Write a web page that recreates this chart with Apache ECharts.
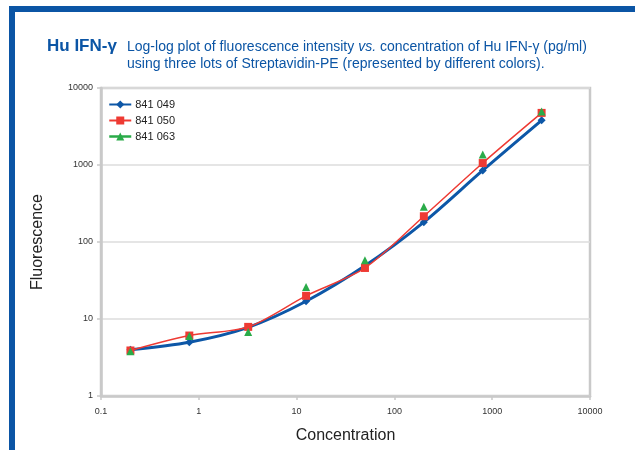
<!DOCTYPE html>
<html>
<head>
<meta charset="utf-8">
<script src="https://cdn.jsdelivr.net/npm/echarts@6/dist/echarts.min.js"></script>
<style>
  html, body { margin: 0; padding: 0; background: #fff; }
  #chart { width: 635px; height: 450px; }
</style>
</head>
<body>
<div id="chart"></div>
<script>
// concentration (pg/ml), 4-fold dilutions
var concentration = [0.2, 0.8, 3.2, 12.5, 50, 200, 800, 3200];
var lot049 = [4.0, 5.0, 7.8, 17, 49, 181, 850, 3800];
var lot050 = [3.9, 6.1, 7.9, 20, 46, 216, 1060, 4750];
var lot063 = [3.8, 6.0, 6.8, 26, 58, 288, 1370, 4950];
var xTicks = ['0.1', '1', '10', '100', '1000', '10000'];
var yTicks = ['1', '10', '100', '1000', '10000'];

function pairs(ys) {
  var out = [];
  for (var i = 0; i < concentration.length; i++) {
    out.push([concentration[i], ys[i]]);
  }
  return out;
}

var blue = '#0d57a7';
var red = '#ee3a33';
var green = '#2aab49';
var frame = '#0b55a5';

var chart = echarts.init(document.getElementById('chart'), null, { renderer: 'canvas' });

var option = {
  backgroundColor: '#fff',
  animation: false,
  textStyle: { fontFamily: 'Liberation Sans, Arial, sans-serif' },
  grid: {
    left: 101,
    right: 45,
    top: 88,
    bottom: 54,
    show: true,
    borderColor: '#c9c9c9',
    borderWidth: 2.5,
    backgroundColor: '#fff'
  },
  graphic: [
    { type: 'rect', shape: { x: 9, y: 6, width: 626, height: 6 }, style: { fill: frame } },
    { type: 'rect', shape: { x: 9, y: 6, width: 6, height: 444 }, style: { fill: frame } },
    {
      type: 'text', left: 47, top: 38,
      style: {
        text: 'Hu IFN-γ',
        fill: frame,
        font: 'bold 17px Liberation Sans, Arial, sans-serif'
      }
    },
    {
      type: 'text', left: 127, top: 40,
      style: {
        text: '{n|Log-log plot of fluorescence intensity }{i|vs.}{n| concentration of Hu IFN-γ (pg/ml)}\n{n|using three lots of Streptavidin-PE (represented by different colors).}',
        rich: {
          n: { fill: frame, fontSize: 14, fontFamily: 'Liberation Sans, Arial, sans-serif', lineHeight: 17 },
          i: { fill: frame, fontSize: 14, fontStyle: 'italic', fontFamily: 'Liberation Sans, Arial, sans-serif', lineHeight: 17 }
        }
      }
    }
  ],
  legend: {
    orient: 'vertical',
    left: 103,
    top: 94,
    itemGap: 5,
    itemWidth: 22,
    itemHeight: 10,
    textStyle: { fontSize: 11, color: '#222', padding: [0, 0, 0, -1] },
    data: [
      { name: '841 049' },
      { name: '841 050' },
      { name: '841 063', lineStyle: { opacity: 1, width: 2.5, color: green } }
    ]
  },
  xAxis: {
    type: 'log',
    logBase: 10,
    min: 0.1,
    max: 10000,
    name: 'Concentration',
    nameLocation: 'middle',
    nameGap: 32,
    nameTextStyle: { fontSize: 16, color: '#222' },
    axisLine: { show: true, lineStyle: { color: '#c9c9c9', width: 2.5 } },
    axisTick: { show: true, length: 4, lineStyle: { color: '#c9c9c9', width: 1.5 } },
    axisLabel: {
      fontSize: 9, color: '#333', margin: 11,
      formatter: function (v) { return xTicks[Math.round(Math.log10(v)) + 1]; }
    },
    splitLine: { show: false },
    minorTick: { show: false }
  },
  yAxis: {
    type: 'log',
    logBase: 10,
    min: 1,
    max: 10000,
    name: 'Fluorescence',
    nameLocation: 'middle',
    nameGap: 55,
    nameTextStyle: { fontSize: 16, color: '#222' },
    axisLine: { show: true, lineStyle: { color: '#c9c9c9', width: 2.5 } },
    axisTick: { show: true, length: 4, lineStyle: { color: '#c9c9c9', width: 1.5 } },
    axisLabel: {
      fontSize: 9, color: '#333', margin: 8,
      formatter: function (v) { return yTicks[Math.round(Math.log10(v))]; }
    },
    splitLine: { show: true, lineStyle: { color: '#dcdcdc', width: 1.5 } }
  },
  series: [
    {
      name: '841 049',
      type: 'line',
      data: pairs(lot049),
      smooth: 0.3,
      symbol: 'diamond',
      symbolSize: 8,
      z: 3,
      itemStyle: { color: blue },
      lineStyle: { color: blue, width: 3 }
    },
    {
      name: '841 050',
      type: 'line',
      data: pairs(lot050),
      smooth: 0.3,
      symbol: 'rect',
      symbolSize: 8,
      z: 4,
      itemStyle: { color: red },
      lineStyle: { color: red, width: 1.5 }
    },
    {
      name: '841 063',
      type: 'line',
      data: pairs(lot063),
      symbol: 'triangle',
      symbolSize: 8,
      z: 5,
      itemStyle: { color: green },
      lineStyle: { color: green, width: 0, opacity: 0 }
    }
  ]
};

chart.setOption(option);
</script>
</body>
</html>
